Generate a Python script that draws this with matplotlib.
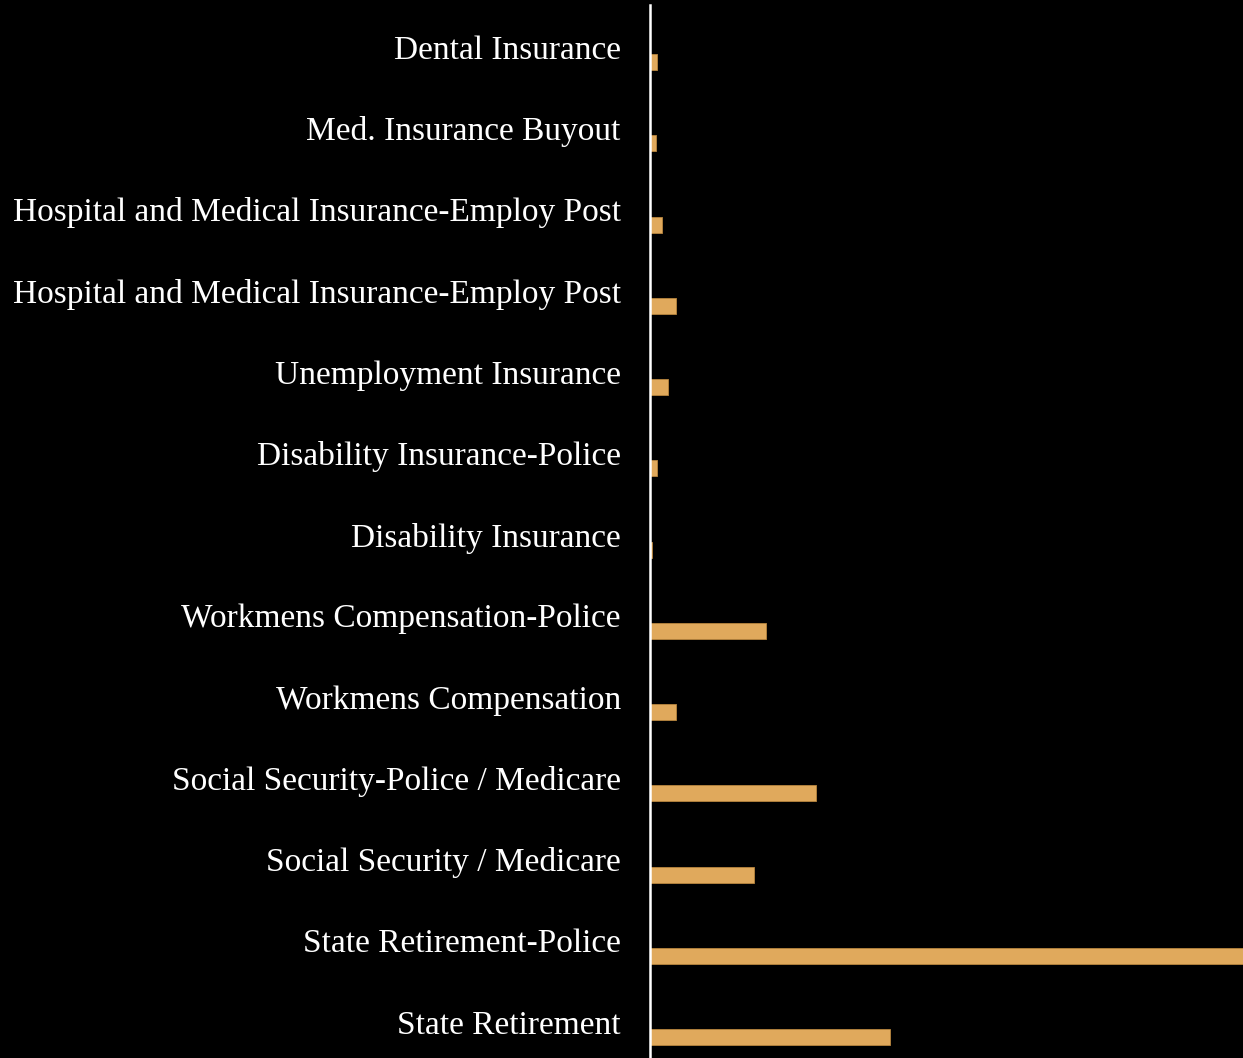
import matplotlib
matplotlib.use("Agg")
import matplotlib.pyplot as plt
import numpy as np

categories = [
    "Dental Insurance",
    "Med. Insurance Buyout",
    "Hospital and Medical Insurance-Employ Post",
    "Hospital and Medical Insurance-Employ Post",
    "Unemployment Insurance",
    "Disability Insurance-Police",
    "Disability Insurance",
    "Workmens Compensation-Police",
    "Workmens Compensation",
    "Social Security-Police / Medicare",
    "Social Security / Medicare",
    "State Retirement-Police",
    "State Retirement",
]
values = [7, 6, 12, 26, 18, 7, 2, 116, 26, 166, 104, 640, 240]

W, H = 1243, 1058
fig = plt.figure(figsize=(W / 100, H / 100), dpi=100, facecolor="black")
ax = fig.add_axes([650 / W, 0, (W - 650) / W, (H - 5) / H], facecolor="black")

slot = 81.25
y = np.arange(len(categories))
offset = 15 / slot
height = 16 / slot
ax.barh(y + offset, values, height=height, color="#E0A95C",
        edgecolor="#B8863E", linewidth=0.6)

ax.set_xlim(0, 593)
top = -42 / slot
bottom = (len(categories) - 1) + (1058 - 1022) / slot
ax.set_ylim(bottom, top)

ax.set_yticks(y)
ax.set_yticklabels(categories, fontsize=24, color="white",
                   family=["Liberation Serif", "DejaVu Serif"])
ax.tick_params(axis="y", length=0, pad=21)
ax.set_xticks([])
for s in ["top", "right", "bottom"]:
    ax.spines[s].set_visible(False)
ax.spines["left"].set_color("white")
ax.spines["left"].set_linewidth(1.8)

fig.savefig("out.png", dpi=100, facecolor="black")
